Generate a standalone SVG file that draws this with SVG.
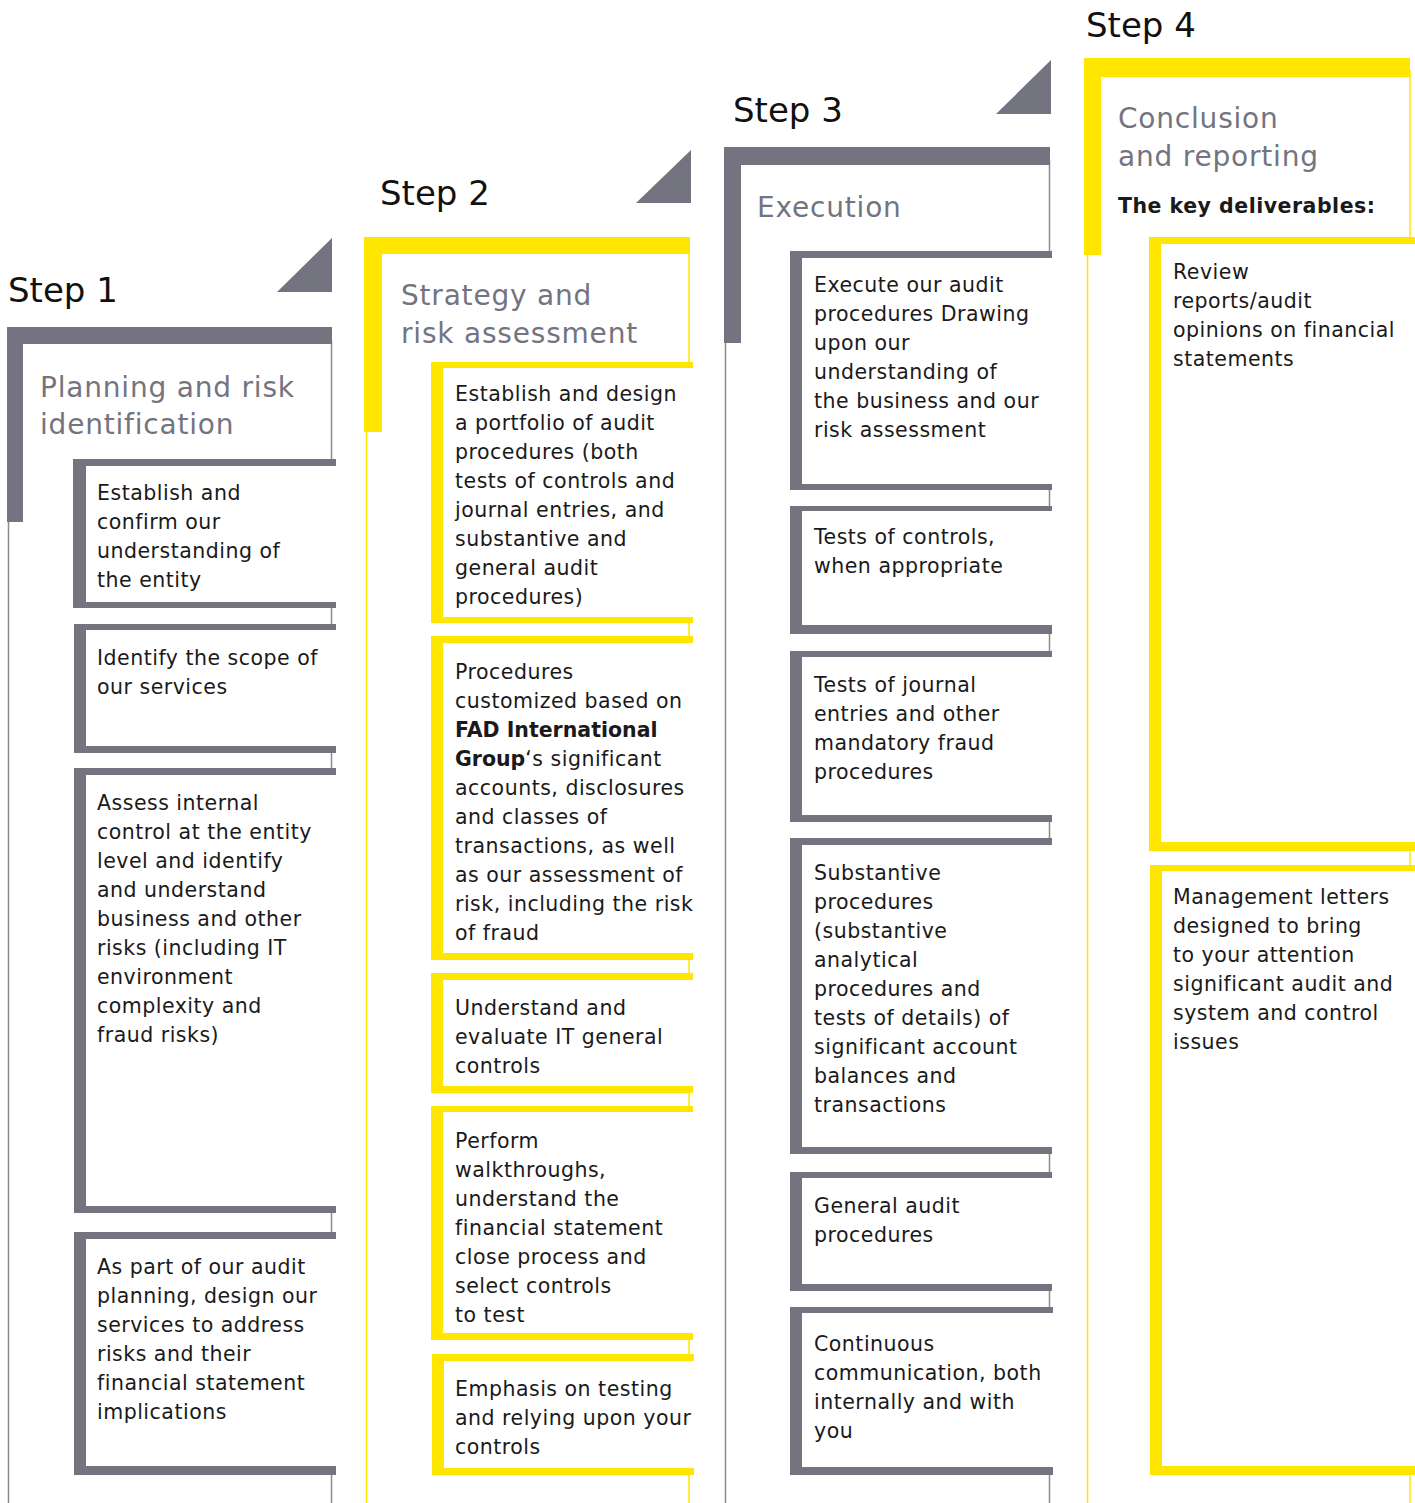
<svg xmlns="http://www.w3.org/2000/svg" width="1415" height="1503" viewBox="0 0 1415 1503">
  <style>
    .g { fill: #747480; }
    .y { fill: #FFE600; }
    .w { fill: #ffffff; }
    .lg { stroke: #8a8a94; stroke-width: 1.5; fill: none; }
    .ly { stroke: #FFE600; stroke-width: 1.5; fill: none; }
    .step { font-family: "DejaVu Sans", "Liberation Sans", sans-serif; font-size: 34px; fill: #111111; }
    .title { font-family: "DejaVu Sans", "Liberation Sans", sans-serif; font-size: 28px; letter-spacing: 0.8px; fill: #747480; }
    .body { font-family: "DejaVu Sans", "Liberation Sans", sans-serif; font-size: 20.5px; letter-spacing: 0.5px; fill: #1a1a1a; }
    .b { font-weight: bold; }
    .tight { letter-spacing: 0px; }
  </style>
  <rect width="1415" height="1503" fill="#ffffff"/>

  <!-- Column frames: thin side rules, thick top and left bars, corner triangle -->
  <g id="frames">
    <g id="frame-1">
      <line class="lg" x1="8.5" y1="340" x2="8.5" y2="1503"/>
      <line class="lg" x1="331.5" y1="340" x2="331.5" y2="1503"/>
      <rect class="g" x="7" y="327" width="325" height="17"/>
      <rect class="g" x="7" y="327" width="16" height="195"/>
      <polygon class="g" points="277,292 332,238 332,292"/>
    </g>
    <g id="frame-2">
      <line class="ly" x1="366.5" y1="250" x2="366.5" y2="1503"/>
      <line class="ly" x1="689" y1="250" x2="689" y2="1503"/>
      <rect class="y" x="364" y="237" width="326" height="17"/>
      <rect class="y" x="364" y="237" width="18" height="195"/>
      <polygon class="g" points="636,203 691,150 691,203"/>
    </g>
    <g id="frame-3">
      <line class="lg" x1="725.5" y1="160" x2="725.5" y2="1503"/>
      <line class="lg" x1="1049.5" y1="160" x2="1049.5" y2="1503"/>
      <rect class="g" x="724" y="147" width="326" height="18"/>
      <rect class="g" x="724" y="147" width="17" height="196"/>
      <polygon class="g" points="996,114 1051,60 1051,114"/>
    </g>
    <g id="frame-4">
      <line class="ly" x1="1087.5" y1="70" x2="1087.5" y2="1503"/>
      <line class="ly" x1="1410" y1="70" x2="1410" y2="1503"/>
      <rect class="y" x="1084" y="58" width="326" height="19"/>
      <rect class="y" x="1084" y="58" width="17" height="197"/>
    </g>
  </g>

  <!-- Step headings and column titles -->
  <g id="headings">
    <text class="step" x="8" y="302">Step 1</text>
    <text class="step" x="380" y="205">Step 2</text>
    <text class="step" x="733" y="122">Step 3</text>
    <text class="step" x="1086" y="37">Step 4</text>

    <text class="title" x="40" y="397">Planning and risk</text>
    <text class="title" x="40" y="434">identification</text>
    <text class="title" x="401" y="305">Strategy and</text>
    <text class="title" x="401" y="343">risk assessment</text>
    <text class="title" x="757" y="217">Execution</text>
    <text class="title" x="1118" y="128">Conclusion</text>
    <text class="title" x="1118" y="166">and reporting</text>
    <text class="body b" x="1118" y="213">The key deliverables:</text>
  </g>

  <!-- Step 1 boxes -->
  <g id="s1-b1">
    <rect class="g" x="73" y="459" width="263" height="149"/>
    <rect class="w" x="86" y="466" width="250" height="136"/>
    <text class="body" x="97" y="500">Establish and</text>
    <text class="body" x="97" y="529">confirm our</text>
    <text class="body" x="97" y="558">understanding of</text>
    <text class="body" x="97" y="587">the entity</text>
  </g>
  <g id="s1-b2">
    <rect class="g" x="74" y="624" width="262" height="129"/>
    <rect class="w" x="86" y="630" width="250" height="116"/>
    <text class="body" x="97" y="665">Identify the scope of</text>
    <text class="body" x="97" y="694">our services</text>
  </g>
  <g id="s1-b3">
    <rect class="g" x="74" y="768" width="262" height="445"/>
    <rect class="w" x="86" y="775" width="250" height="431"/>
    <text class="body" x="97" y="810">Assess internal</text>
    <text class="body" x="97" y="839">control at the entity</text>
    <text class="body" x="97" y="868">level and identify</text>
    <text class="body" x="97" y="897">and understand</text>
    <text class="body" x="97" y="926">business and other</text>
    <text class="body" x="97" y="955">risks (including IT</text>
    <text class="body" x="97" y="984">environment</text>
    <text class="body" x="97" y="1013">complexity and</text>
    <text class="body" x="97" y="1042">fraud risks)</text>
  </g>
  <g id="s1-b4">
    <rect class="g" x="74" y="1232" width="262" height="243"/>
    <rect class="w" x="86" y="1239" width="250" height="227"/>
    <text class="body" x="97" y="1274">As part of our audit</text>
    <text class="body" x="97" y="1303">planning, design our</text>
    <text class="body" x="97" y="1332">services to address</text>
    <text class="body" x="97" y="1361">risks and their</text>
    <text class="body" x="97" y="1390">financial statement</text>
    <text class="body" x="97" y="1419">implications</text>
  </g>

  <!-- Step 2 boxes -->
  <g id="s2-b1">
    <rect class="y" x="431" y="362" width="262" height="261"/>
    <rect class="w" x="443" y="368" width="250" height="249"/>
    <text class="body" x="455" y="401">Establish and design</text>
    <text class="body" x="455" y="430">a portfolio of audit</text>
    <text class="body" x="455" y="459">procedures (both</text>
    <text class="body" x="455" y="488">tests of controls and</text>
    <text class="body" x="455" y="517">journal entries, and</text>
    <text class="body" x="455" y="546">substantive and</text>
    <text class="body" x="455" y="575">general audit</text>
    <text class="body" x="455" y="604">procedures)</text>
  </g>
  <g id="s2-b2">
    <rect class="y" x="431" y="636" width="262" height="324"/>
    <rect class="w" x="443" y="643" width="250" height="310"/>
    <text class="body" x="455" y="679">Procedures</text>
    <text class="body" x="455" y="708">customized based on</text>
    <text class="body b tight" x="455" y="737">FAD International</text>
    <text class="body" x="455" y="766"><tspan class="b tight">Group</tspan>‘s significant</text>
    <text class="body" x="455" y="795">accounts, disclosures</text>
    <text class="body" x="455" y="824">and classes of</text>
    <text class="body" x="455" y="853">transactions, as well</text>
    <text class="body" x="455" y="882">as our assessment of</text>
    <text class="body" x="455" y="911">risk, including the risk</text>
    <text class="body" x="455" y="940">of fraud</text>
  </g>
  <g id="s2-b3">
    <rect class="y" x="431" y="973" width="262" height="120"/>
    <rect class="w" x="443" y="980" width="250" height="106"/>
    <text class="body" x="455" y="1015">Understand and</text>
    <text class="body" x="455" y="1044">evaluate IT general</text>
    <text class="body" x="455" y="1073">controls</text>
  </g>
  <g id="s2-b4">
    <rect class="y" x="431" y="1106" width="262" height="234"/>
    <rect class="w" x="443" y="1112" width="250" height="221"/>
    <text class="body" x="455" y="1148">Perform</text>
    <text class="body" x="455" y="1177">walkthroughs,</text>
    <text class="body" x="455" y="1206">understand the</text>
    <text class="body" x="455" y="1235">financial statement</text>
    <text class="body" x="455" y="1264">close process and</text>
    <text class="body" x="455" y="1293">select controls</text>
    <text class="body" x="455" y="1322">to test</text>
  </g>
  <g id="s2-b5">
    <rect class="y" x="432" y="1354" width="262" height="121"/>
    <rect class="w" x="444" y="1361" width="250" height="107"/>
    <text class="body" x="455" y="1396">Emphasis on testing</text>
    <text class="body" x="455" y="1425">and relying upon your</text>
    <text class="body" x="455" y="1454">controls</text>
  </g>

  <!-- Step 3 boxes -->
  <g id="s3-b1">
    <rect class="g" x="790" y="251" width="262" height="239"/>
    <rect class="w" x="802" y="258" width="250" height="226"/>
    <text class="body" x="814" y="292">Execute our audit</text>
    <text class="body" x="814" y="321">procedures Drawing</text>
    <text class="body" x="814" y="350">upon our</text>
    <text class="body" x="814" y="379">understanding of</text>
    <text class="body" x="814" y="408">the business and our</text>
    <text class="body" x="814" y="437">risk assessment</text>
  </g>
  <g id="s3-b2">
    <rect class="g" x="790" y="506" width="262" height="128"/>
    <rect class="w" x="802" y="511" width="250" height="114"/>
    <text class="body" x="814" y="544">Tests of controls,</text>
    <text class="body" x="814" y="573">when appropriate</text>
  </g>
  <g id="s3-b3">
    <rect class="g" x="790" y="651" width="262" height="171"/>
    <rect class="w" x="802" y="657" width="250" height="158"/>
    <text class="body" x="814" y="692">Tests of journal</text>
    <text class="body" x="814" y="721">entries and other</text>
    <text class="body" x="814" y="750">mandatory fraud</text>
    <text class="body" x="814" y="779">procedures</text>
  </g>
  <g id="s3-b4">
    <rect class="g" x="790" y="838" width="262" height="316"/>
    <rect class="w" x="802" y="845" width="250" height="302"/>
    <text class="body" x="814" y="880">Substantive</text>
    <text class="body" x="814" y="909">procedures</text>
    <text class="body" x="814" y="938">(substantive</text>
    <text class="body" x="814" y="967">analytical</text>
    <text class="body" x="814" y="996">procedures and</text>
    <text class="body" x="814" y="1025">tests of details) of</text>
    <text class="body" x="814" y="1054">significant account</text>
    <text class="body" x="814" y="1083">balances and</text>
    <text class="body" x="814" y="1112">transactions</text>
  </g>
  <g id="s3-b5">
    <rect class="g" x="790" y="1172" width="262" height="119"/>
    <rect class="w" x="802" y="1178" width="250" height="106"/>
    <text class="body" x="814" y="1213">General audit</text>
    <text class="body" x="814" y="1242">procedures</text>
  </g>
  <g id="s3-b6">
    <rect class="g" x="790" y="1307" width="263" height="168"/>
    <rect class="w" x="802" y="1313" width="251" height="154"/>
    <text class="body" x="814" y="1351">Continuous</text>
    <text class="body" x="814" y="1380">communication, both</text>
    <text class="body" x="814" y="1409">internally and with</text>
    <text class="body" x="814" y="1438">you</text>
  </g>

  <!-- Step 4 boxes -->
  <g id="s4-b1">
    <rect class="y" x="1149" y="237" width="266" height="614"/>
    <rect class="w" x="1161" y="244" width="254" height="598"/>
    <text class="body" x="1173" y="279">Review</text>
    <text class="body" x="1173" y="308">reports/audit</text>
    <text class="body" x="1173" y="337">opinions on financial</text>
    <text class="body" x="1173" y="366">statements</text>
  </g>
  <g id="s4-b2">
    <rect class="y" x="1150" y="865" width="265" height="610"/>
    <rect class="w" x="1162" y="871" width="253" height="595"/>
    <text class="body" x="1173" y="904">Management letters</text>
    <text class="body" x="1173" y="933">designed to bring</text>
    <text class="body" x="1173" y="962">to your attention</text>
    <text class="body" x="1173" y="991">significant audit and</text>
    <text class="body" x="1173" y="1020">system and control</text>
    <text class="body" x="1173" y="1049">issues</text>
  </g>
</svg>
